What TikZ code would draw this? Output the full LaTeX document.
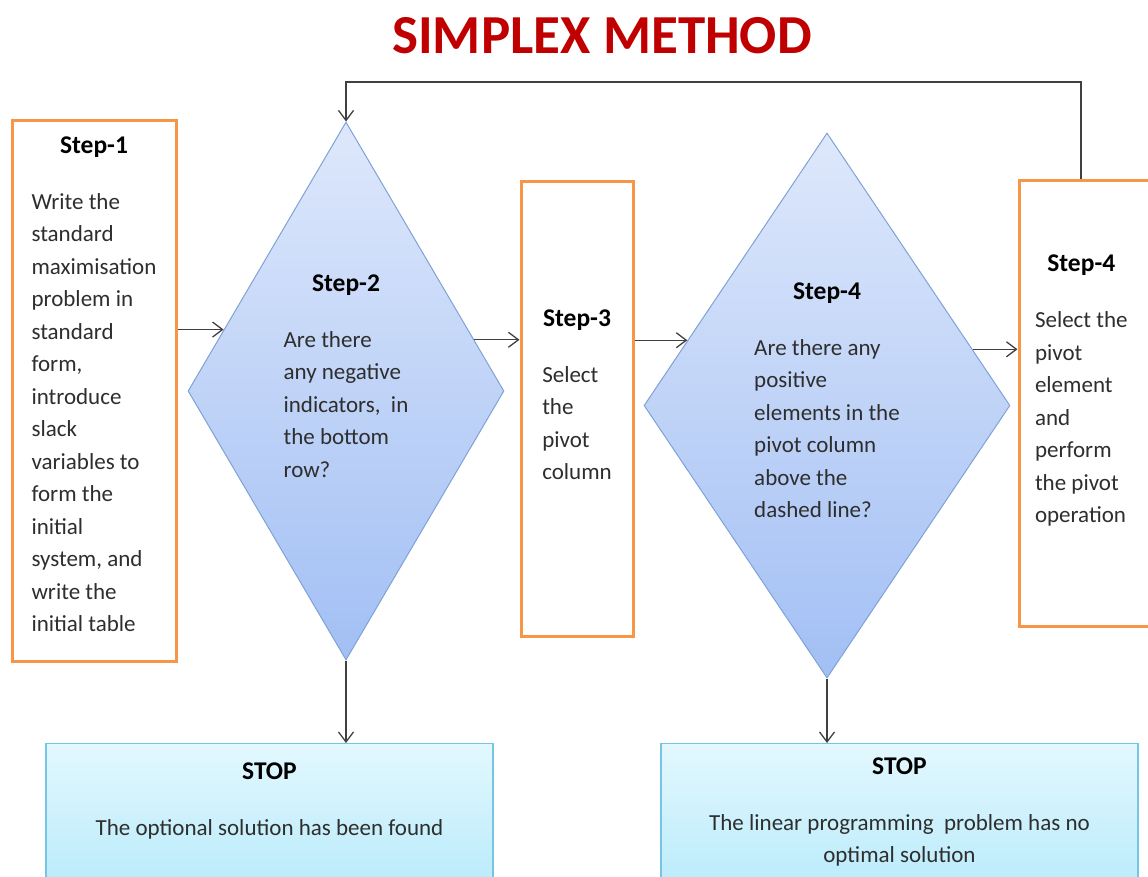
\documentclass[tikz,border=0pt]{standalone}
\usepackage{fontspec}
\setmainfont{Carlito}
\usetikzlibrary{shapes.geometric, arrows.meta, calc}
\definecolor{titlered}{HTML}{C00000}
\definecolor{boxorange}{HTML}{F79646}
\definecolor{diaedge}{HTML}{7FA2D6}
\definecolor{diatop}{HTML}{DEE8FB}
\definecolor{diabot}{HTML}{A2BFF4}
\definecolor{stopedge}{HTML}{74C6E3}
\definecolor{stoptop}{HTML}{E3F8FE}
\definecolor{stopbot}{HTML}{A9E6FA}
\definecolor{arrowgray}{HTML}{404040}
\newcommand{\steptext}[3][l]{\begin{tabular}{@{}#1@{}}\multicolumn{1}{@{}c@{}}{\color{black}\fontsize{25.5}{32.5}\selectfont\bfseries #2}\\[23.5pt] #3\end{tabular}}

\begin{document}
\begin{tikzpicture}[x=1pt, y=-1pt,
    every node/.style={font=\fontsize{23}{32.5}\selectfont, text=black!82},
    stepbox/.style={draw=boxorange, line width=3pt, fill=white, inner sep=0pt},
    decision/.style={diamond, draw=diaedge, line width=1pt, top color=diatop, bottom color=diabot, inner sep=0pt},
    stopbox/.style={draw=stopedge, line width=1.2pt, top color=stoptop, bottom color=stopbot, anchor=north, inner xsep=0pt, text depth=120pt},
    arr/.style={draw=arrowgray, line width=1.3pt, -{Straight Barb[length=10pt, width=15pt]}}]
  \clip (0,0) rectangle (1148,876);
  \node[font=\fontsize{55}{60}\selectfont\bfseries, text=titlered] (title) at (602,36) {SIMPLEX METHOD};

  % steps of the method
  \node[stepbox, minimum width=164pt, minimum height=541pt] (s1) at (94,390.5)
    {\steptext{Step-1}{Write the\\ standard\\ maximisation\\ problem in\\ standard\\ form,\\ introduce\\ slack\\ variables to\\ form the\\ initial\\ system, and\\ write the\\ initial table\\[9pt]}};
  \node[decision, aspect=0.587, minimum width=316pt, minimum height=538pt] (d1) at (346,391)
    {\steptext{Step-2}{Are there\\ any negative\\ indicators,~~in\\ the bottom\\ row?\\[27pt]}};
  \node[stepbox, minimum width=112pt, minimum height=455pt] (s3) at (577,408.5)
    {\steptext{Step-3}{Select\\ the\\ pivot\\ column\\[24pt]}};
  \node[decision, aspect=0.672, minimum width=366pt, minimum height=545pt] (d2) at (827,405.5)
    {\steptext{Step-4}{Are there any\\ positive\\ elements in the\\ pivot column\\ above the\\ dashed line?\\[7pt]}};
  \node[stepbox, inner xsep=16pt, minimum height=446pt] (s4) at (1089.5,403)
    {\makebox[109pt][l]{\steptext{Step-4}{Select the\\ pivot\\ element\\ and\\ perform\\ the pivot\\ operation\\[25pt]}}};

  % stop boxes
  \node[stopbox, minimum width=447pt, inner ysep=13pt] (st1) at (269.5,743)
    {\steptext[c]{STOP}{The optional solution has been found}};
  \node[stopbox, minimum width=477pt, inner ysep=8pt] (st2) at (899.5,743)
    {\steptext[c]{STOP}{The linear programming~~problem has no\\ optimal solution}};

  % connectors
  \coordinate (in2) at ($(d1.west)!0.228!(d1.north)$);
  \coordinate (out2) at ($(d1.east)!0.19!(d1.north)$);
  \coordinate (in4) at ($(d2.west)!0.239!(d2.north)$);
  \coordinate (out4) at ($(d2.east)!0.206!(d2.north)$);
  \coordinate (loop) at (1081,82);
  \draw[arr] (s1.east |- in2) -- (in2);
  \draw[arr] (out2) -- (s3.west |- out2);
  \draw[arr] (s3.east |- in4) -- (in4);
  \draw[arr] (out4) -- (s4.west |- out4);
  \draw[arr] (loop |- s4.north) -- (loop) -| (d1.north);
  \draw[arr] (d1.south) -- (d1.south |- st1.north);
  \draw[arr] (d2.south) -- (d2.south |- st2.north);
\end{tikzpicture}
\end{document}
